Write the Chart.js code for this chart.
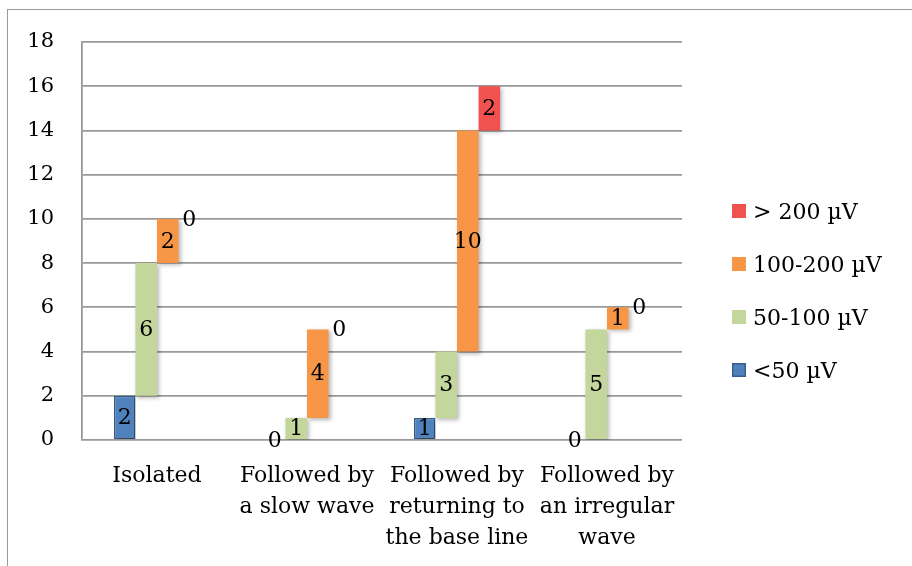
<!DOCTYPE html>
<html>
<head>
<meta charset="utf-8">
<script src="https://cdn.jsdelivr.net/npm/chart.js@4/dist/chart.umd.min.js"></script>
<style>
  html, body { margin: 0; padding: 0; background: #fff; }
  #wrap { position: relative; width: 912px; height: 566px; overflow: hidden; }
  #frame { position: absolute; left: 7px; top: 9px; width: 1000px; height: 1000px;
           border: 1.5px solid #9a9a9a; box-sizing: border-box; }
  canvas { position: absolute; left: 0; top: 0; }
</style>
</head>
<body>
<div id="wrap">
  <div id="frame"></div>
  <canvas id="c" width="912" height="566"></canvas>
</div>
<script>
// Spike categories (multi-line axis labels)
const categories = [
  ['Isolated'],
  ['Followed by', 'a slow wave'],
  ['Followed by', 'returning to', 'the base line'],
  ['Followed by', 'an irregular', 'wave']
];
// Amplitude classes and counts per category
const seriesNames = ['<50 \u00b5V', '50-100 \u00b5V', '100-200 \u00b5V', '> 200 \u00b5V'];
const below50   = [2, 0, 1, 0];
const from50    = [6, 1, 3, 5];
const from100   = [2, 4, 10, 1];
const above200  = [0, 0, 2, 0];
const yTicks = [0, 2, 4, 6, 8, 10, 12, 14, 16, 18];

const seriesValues = [below50, from50, from100, above200];
const fills   = ['#4f81bd', '#c3d69b', '#f79646', '#f0524f'];
const borders = ['#385d8a', '#c3d69b', '#f79646', '#f0524f'];
const borderW = [1.5, 0, 0, 0];

// Each class sits on top of the running total of the previous classes
const running = categories.map(() => 0);
const datasets = seriesValues.map((vals, s) => {
  const data = vals.map((v, i) => {
    const start = running[i];
    running[i] += v;
    return [start, start + v];
  });
  return {
    label: seriesNames[s],
    values: vals,
    data: data,
    backgroundColor: fills[s],
    borderColor: borders[s],
    borderWidth: borderW[s],
    borderSkipped: false,
    barPercentage: 1.0,
    categoryPercentage: 0.575
  };
});

const FONT = '"DejaVu Serif", "Liberation Serif", serif';

// soft drop shadow under the bars
const barShadow = {
  id: 'barShadow',
  beforeDatasetsDraw(chart) {
    const ctx = chart.ctx;
    ctx.save();
    ctx.shadowColor = 'rgba(0,0,0,0.28)';
    ctx.shadowBlur = 4;
    ctx.shadowOffsetX = 2;
    ctx.shadowOffsetY = 2;
  },
  afterDatasetsDraw(chart) {
    chart.ctx.restore();
  }
};

// value labels centred on each bar
const valueLabels = {
  id: 'valueLabels',
  afterDatasetsDraw(chart) {
    const ctx = chart.ctx;
    ctx.save();
    ctx.font = '22px ' + FONT;
    ctx.fillStyle = '#000';
    ctx.textAlign = 'center';
    ctx.textBaseline = 'middle';
    chart.data.datasets.forEach((ds, di) => {
      const meta = chart.getDatasetMeta(di);
      meta.data.forEach((el, i) => {
        const v = ds.values[i];
        const cy = (el.y + el.base) / 2;
        ctx.fillText(String(v), el.x, cy + 1);
      });
    });
    ctx.restore();
  }
};

// legend on the right, highest class first
const sideLegend = {
  id: 'sideLegend',
  afterDraw(chart) {
    const ctx = chart.ctx;
    const area = chart.chartArea;
    const x0 = area.right + 50;
    const yStart = 212, step = 53;
    ctx.save();
    ctx.font = '22px ' + FONT;
    ctx.textAlign = 'left';
    ctx.textBaseline = 'middle';
    const order = chart.data.datasets.map((d, i) => i).reverse();
    order.forEach((di, k) => {
      const ds = chart.data.datasets[di];
      const y = yStart + k * step;
      ctx.fillStyle = ds.backgroundColor;
      ctx.fillRect(x0, y - 8, 14, 14);
      if (ds.borderWidth) {
        ctx.strokeStyle = ds.borderColor;
        ctx.lineWidth = 1.5;
        ctx.strokeRect(x0 + 0.75, y - 7.25, 12.5, 12.5);
      }
      ctx.fillStyle = '#000';
      ctx.fillText(ds.label, x0 + 21, y + 1);
    });
    ctx.restore();
  }
};

new Chart(document.getElementById('c'), {
  type: 'bar',
  data: { labels: categories, datasets: datasets },
  options: {
    responsive: false,
    animation: false,
    layout: { padding: { left: 0, top: 42, right: 230, bottom: 0 } },
    plugins: {
      legend: { display: false },
      tooltip: { enabled: false }
    },
    scales: {
      x: {
        grid: { display: false, drawTicks: false },
        border: { display: false },
        ticks: {
          color: '#000',
          padding: 21,
          maxRotation: 0,
          autoSkip: false,
          font: { family: FONT, size: 22, lineHeight: 1.4 }
        },
        afterFit(scale) { scale.height = 126; }
      },
      y: {
        min: 0,
        max: 18,
        afterBuildTicks(scale) { scale.ticks = yTicks.map(v => ({ value: v })); },
        grid: { color: '#999999', lineWidth: 1.8, drawTicks: false },
        border: { display: true, color: '#999999', width: 1.8 },
        ticks: {
          color: '#000',
          padding: 28,
          font: { family: FONT, size: 21 }
        },
        afterFit(scale) { scale.width = 82; }
      }
    }
  },
  plugins: [barShadow, valueLabels, sideLegend]
});
</script>
</body>
</html>
